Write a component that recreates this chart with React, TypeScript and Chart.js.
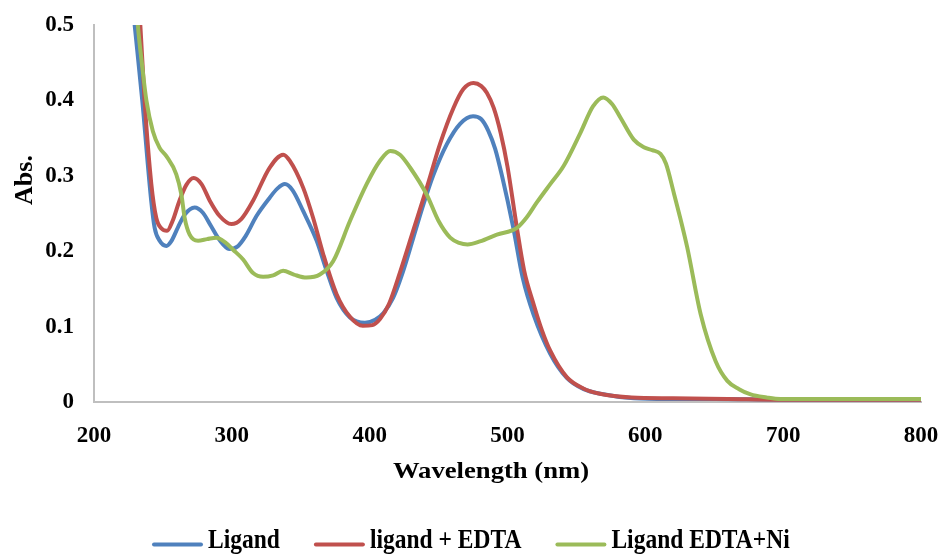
import { useEffect, useRef } from "react";
import { Chart, registerables } from "chart.js";

Chart.register(...registerables);

// UV-Vis absorption spectra
const seriesNames = ["Ligand", "ligand + EDTA", "Ligand EDTA+Ni"];
const seriesColors = ["#4F81BD", "#C0504D", "#9BBB59"];

const ligandWl = [224, 229.5, 235, 241.5, 244, 247.6, 252.5, 256, 261, 266, 273, 279, 285, 291, 298, 304, 310, 318, 327.5, 333, 338.5, 344, 351.8, 361.5, 368.8, 376, 385.7, 396.6, 404, 410, 417, 424, 431.7, 439, 446, 456, 465.6, 475, 481, 486, 491, 496, 504.2, 511, 518.9, 531, 543, 555.3, 567.4, 591.6, 616, 650, 700, 750, 800];
const ligandAbs = [0.6, 0.5, 0.4, 0.267, 0.231, 0.214, 0.207, 0.213, 0.232, 0.249, 0.258, 0.251, 0.233, 0.215, 0.203, 0.206, 0.22, 0.247, 0.271, 0.283, 0.289, 0.281, 0.253, 0.214, 0.174, 0.138, 0.112, 0.105, 0.109, 0.118, 0.138, 0.172, 0.218, 0.262, 0.3, 0.342, 0.369, 0.379, 0.375, 0.36, 0.336, 0.3, 0.231, 0.165, 0.116, 0.064, 0.032, 0.017, 0.011, 0.005, 0.004, 0.004, 0.003, 0.003, 0.003];

const edtaWl = [229, 233.6, 236.7, 241.6, 245.2, 249, 253, 257, 262, 267, 272.3, 278, 284, 291, 299.7, 307, 315.4, 327.5, 337.3, 342, 351.8, 359, 366.3, 376, 385.7, 395, 402, 407.5, 414, 422, 431.7, 441.4, 451, 460.8, 468, 475.3, 481, 485, 490, 495, 500, 506.9, 512, 518.9, 525, 531, 543, 555, 567, 590, 620, 660, 700, 750, 800];
const edtaAbs = [0.6, 0.5, 0.4, 0.289, 0.244, 0.23, 0.227, 0.24, 0.267, 0.288, 0.297, 0.289, 0.267, 0.247, 0.236, 0.243, 0.267, 0.311, 0.328, 0.32, 0.284, 0.244, 0.196, 0.143, 0.113, 0.101, 0.102, 0.11, 0.13, 0.172, 0.228, 0.284, 0.342, 0.39, 0.415, 0.423, 0.419, 0.41, 0.39, 0.357, 0.312, 0.23, 0.175, 0.13, 0.095, 0.068, 0.033, 0.018, 0.011, 0.006, 0.005, 0.004, 0.003, 0.003, 0.003];

const nickelWl = [228, 231.8, 235, 238, 242.7, 247.6, 252.5, 259.7, 263.4, 265.8, 269.4, 275.5, 282, 288.8, 295, 300.9, 308.2, 315.4, 322.7, 330, 337.2, 345, 354.2, 363.9, 373.6, 385.7, 397.8, 407.5, 415, 422, 429.3, 441.4, 450, 458.4, 465, 471, 480, 492.3, 506.9, 514, 521.4, 531, 540.7, 552.9, 562, 569.5, 576, 582, 591.6, 598.9, 605, 611, 615, 620.7, 625.6, 630.4, 640.2, 651, 659.5, 668, 676.4, 688, 698, 750, 800];
const nickelAbs = [0.6, 0.5, 0.445, 0.4, 0.359, 0.337, 0.326, 0.302, 0.275, 0.244, 0.222, 0.214, 0.216, 0.218, 0.212, 0.202, 0.189, 0.171, 0.166, 0.168, 0.174, 0.169, 0.165, 0.169, 0.187, 0.24, 0.289, 0.32, 0.333, 0.328, 0.311, 0.275, 0.24, 0.218, 0.211, 0.209, 0.213, 0.222, 0.231, 0.245, 0.265, 0.289, 0.313, 0.357, 0.392, 0.404, 0.395, 0.377, 0.348, 0.338, 0.334, 0.329, 0.316, 0.277, 0.242, 0.205, 0.116, 0.054, 0.028, 0.017, 0.01, 0.006, 0.004, 0.004, 0.004];

const xTickValues = [200, 300, 400, 500, 600, 700, 800];
const yTickValues = [0, 0.1, 0.2, 0.3, 0.4, 0.5];
const yTickLabels = ["0", "0.1", "0.2", "0.3", "0.4", "0.5"];

const xTitle = "Wavelength (nm)";
const yTitle = "Abs.";

const FONT = "'Liberation Serif', 'Times New Roman', serif";

const toPoints = (xs: number[], ys: number[]) => xs.map((x, i) => ({ x, y: ys[i] }));

function drawStretched(
  ctx: CanvasRenderingContext2D,
  text: string,
  x: number,
  y: number,
  size: number,
  sx: number,
  align: CanvasTextAlign,
  angle = 0
) {
  ctx.save();
  ctx.translate(x, y);
  if (angle) ctx.rotate(angle);
  ctx.scale(sx, 1);
  ctx.font = `bold ${size}px ${FONT}`;
  ctx.fillStyle = "#000";
  ctx.textAlign = align;
  ctx.textBaseline = "alphabetic";
  ctx.fillText(text, 0, 0);
  ctx.restore();
}

// Axis titles and the legend row, drawn on top of the chart
const textPlugin = {
  id: "spectraText",
  afterDraw(chart: Chart) {
    const ctx = chart.ctx;

    drawStretched(ctx, xTitle, 491, 478, 24, 1.11, "center");
    drawStretched(ctx, yTitle, 32, 180, 26, 1.0, "center", -Math.PI / 2);

    // legend
    const size = 28;
    const sx = 0.84;
    const lineW = 51;
    let x = 152;
    const lineY = 544.5;
    const baseY = 548;
    ctx.save();
    ctx.font = `bold ${size}px ${FONT}`;
    seriesNames.forEach((name, i) => {
      ctx.beginPath();
      ctx.strokeStyle = seriesColors[i];
      ctx.lineWidth = 4;
      ctx.lineCap = "round";
      ctx.moveTo(x + 2, lineY);
      ctx.lineTo(x + lineW - 2, lineY);
      ctx.stroke();
      const tx = x + lineW + 5;
      drawStretched(ctx, name, tx, baseY, size, sx, "left");
      ctx.font = `bold ${size}px ${FONT}`;
      const w = ctx.measureText(name).width * sx;
      x = tx + w + 34;
    });
    ctx.restore();
  },
};

export default function App() {
  const canvasRef = useRef<HTMLCanvasElement | null>(null);

  useEffect(() => {
    document.body.style.margin = "0";
    const canvas = canvasRef.current;
    if (!canvas) return;

    const tickFont = { family: FONT, size: 23, weight: "bold" as const };

    const chart = new Chart(canvas, {
      type: "line",
      data: {
        datasets: [
          { label: seriesNames[0], data: toPoints(ligandWl, ligandAbs), order: 3 },
          { label: seriesNames[1], data: toPoints(edtaWl, edtaAbs), order: 2 },
          { label: seriesNames[2], data: toPoints(nickelWl, nickelAbs), order: 1 },
        ].map((d, i) => ({
          ...d,
          borderColor: seriesColors[i],
          backgroundColor: seriesColors[i],
          borderWidth: 4,
          pointRadius: 0,
          pointHoverRadius: 0,
          fill: false,
          cubicInterpolationMode: "monotone" as const,
          borderCapStyle: "round" as const,
          borderJoinStyle: "round" as const,
        })),
      },
      options: {
        responsive: false,
        animation: false,
        devicePixelRatio: 1,
        layout: { padding: { top: 25, right: 25, left: 0, bottom: 0 } },
        plugins: {
          legend: { display: false },
          tooltip: { enabled: false },
          title: { display: false },
        },
        scales: {
          x: {
            type: "linear",
            min: xTickValues[0],
            max: xTickValues[xTickValues.length - 1],
            afterBuildTicks: (s: any) => {
              s.ticks = xTickValues.map((v) => ({ value: v }));
            },
            afterFit: (s: any) => {
              s.height = 154;
              s.paddingLeft = 0;
              s.paddingRight = 0;
            },
            grid: { display: false, drawTicks: false },
            border: { display: true, color: "#bfbfbf", width: 2 },
            ticks: {
              font: tickFont,
              color: "#000",
              padding: 20,
              maxRotation: 0,
              autoSkip: false,
              callback: (v: any) => String(v),
            },
          },
          y: {
            type: "linear",
            min: yTickValues[0],
            max: yTickValues[yTickValues.length - 1],
            afterBuildTicks: (s: any) => {
              s.ticks = yTickValues.map((v) => ({ value: v }));
            },
            afterFit: (s: any) => {
              s.width = 94;
              s.paddingTop = 0;
              s.paddingBottom = 0;
            },
            grid: { display: false, drawTicks: false },
            border: { display: true, color: "#bfbfbf", width: 2 },
            ticks: {
              font: tickFont,
              color: "#000",
              padding: 20,
              autoSkip: false,
              callback: (_v: any, i: number) => yTickLabels[i],
            },
          },
        },
      },
      plugins: [textPlugin],
    });

    return () => chart.destroy();
  }, []);

  return (
    <div style={{ width: 946, height: 556, background: "#fff" }}>
      <canvas ref={canvasRef} width={946} height={556} />
    </div>
  );
}
